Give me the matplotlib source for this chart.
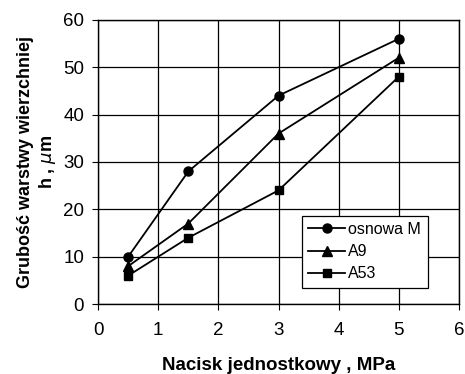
import matplotlib
matplotlib.use("Agg")
import matplotlib.pyplot as plt

plt.rcParams['font.family'] = ['Liberation Sans', 'DejaVu Sans']

pressure = [0.5, 1.5, 3, 5]
osnowa_m = [10, 28, 44, 56]
a9 = [8, 17, 36, 52]
a53 = [6, 14, 24, 48]

fig = plt.figure(figsize=(4.65, 3.74), dpi=100)
ax = fig.add_axes([0.211, 0.187, 0.776, 0.76])

ax.plot(pressure, osnowa_m, color='black', lw=1.3, marker='o', ms=6.5, label='osnowa M')
ax.plot(pressure, a9, color='black', lw=1.3, marker='^', ms=6.5, label='A9')
ax.plot(pressure, a53, color='black', lw=1.3, marker='s', ms=6, label='A53')

ax.set_xlim(0, 6)
ax.set_ylim(0, 60)
ax.set_xticks(range(0, 7))
ax.set_yticks(range(0, 61, 10))
ax.grid(True, color='black', lw=0.9)
ax.set_axisbelow(True)
for s in ax.spines.values():
    s.set_color('black')
    s.set_linewidth(1.0)
ax.tick_params(direction='out', length=4, labelsize=13.5, colors='black')
ax.tick_params(axis='x', pad=9)
ax.tick_params(axis='y', pad=6)

ax.set_xlabel('Nacisk jednostkowy , MPa', fontsize=13.5, fontweight='bold', labelpad=13)
ax.set_ylabel('Grubość warstwy wierzchniej\nh , $\\mu$m', fontsize=13,
              fontweight='bold', labelpad=4, linespacing=1.15)

leg = ax.legend(loc='lower right', bbox_to_anchor=(0.935, 0.029), fontsize=11.5,
                frameon=True, fancybox=False, edgecolor='black', framealpha=1,
                handlelength=2.3, handletextpad=0.2, borderpad=0.4, labelspacing=0.45)
leg.get_frame().set_linewidth(0.9)

fig.savefig('out.png', dpi=100)
